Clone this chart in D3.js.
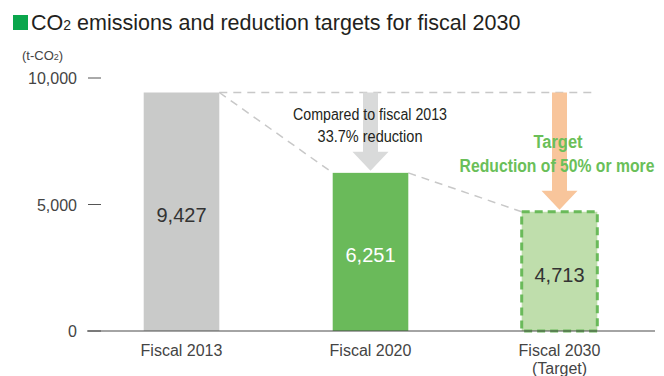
<!DOCTYPE html>
<html>
<head>
<meta charset="utf-8">
<script src="https://cdn.jsdelivr.net/npm/d3@7"></script>
<style>
  body { margin: 0; background: #fff; }
  svg { display: block; font-family: "Liberation Sans", Arial, Helvetica, sans-serif; }
</style>
</head>
<body>
<script>
// CO2 emissions bar chart

var categories = ["Fiscal 2013", "Fiscal 2020", "Fiscal 2030"];
var subLabels = ["", "", "(Target)"];
var values = [9427, 6251, 4713];
var valueLabels = ["9,427", "6,251", "4,713"];
var yTicks = [0, 5000, 10000];
var tickLabels = ["0", "5,000", "10,000"];

var width = 664, height = 376;
var svg = d3.select("body").append("svg").attr("width", width).attr("height", height);

var x = d3.scaleBand().domain(categories).range([87, 654]).paddingInner(0.6).paddingOuter(0.3);
var y = d3.scaleLinear().domain([0, 10000]).range([331, 78]);

// title
svg.append("rect").attr("x", 13).attr("y", 15).attr("width", 15).attr("height", 15).attr("fill", "#0aa64c");
var title = svg.append("text").attr("x", 31).attr("y", 30).attr("font-size", 21.5).attr("fill", "#231f20");
title.append("tspan").text("CO");
title.append("tspan").attr("font-size", 14).text("2");
title.append("tspan").text(" emissions and reduction targets for fiscal 2030");

var unit = svg.append("text").attr("x", 22).attr("y", 60).attr("font-size", 13).attr("fill", "#444");
unit.append("tspan").text("(t-CO");
unit.append("tspan").attr("font-size", 9).text("2");
unit.append("tspan").text(")");

// y ticks
var ticks = svg.append("g");
ticks.selectAll("line").data(yTicks).enter().append("line")
  .attr("x1", 88).attr("x2", 101)
  .attr("y1", function (d) { return y(d); }).attr("y2", function (d) { return y(d); })
  .attr("stroke", "#555").attr("stroke-width", 1);
ticks.selectAll("text").data(yTicks).enter().append("text")
  .attr("x", 77).attr("y", function (d) { return y(d) + 6; })
  .attr("text-anchor", "end").attr("font-size", 16).attr("fill", "#444")
  .text(function (d, i) { return tickLabels[i]; });

// dashed guide lines
var bw = x.bandwidth();
var guide = svg.append("g").attr("stroke", "#c8c8c8").attr("stroke-width", 1.5).attr("stroke-dasharray", "8,6").attr("fill", "none");
guide.append("line")
  .attr("x1", x(categories[0]) + bw).attr("x2", x(categories[2]) + bw)
  .attr("y1", y(values[0])).attr("y2", y(values[0]));
for (var i = 0; i < 2; i++) {
  guide.append("line")
    .attr("x1", x(categories[i]) + bw).attr("y1", y(values[i]))
    .attr("x2", x(categories[i + 1])).attr("y2", y(values[i + 1]));
}

// bars
var fills = ["#c9cac9", "#6aba5a", "#bfdeac"];
svg.selectAll("rect.bar").data(values).enter().append("rect")
  .attr("class", "bar")
  .attr("x", function (d, i) { return x(categories[i]); })
  .attr("y", function (d) { return y(d); })
  .attr("width", bw)
  .attr("height", function (d) { return y(0) - y(d); })
  .attr("fill", function (d, i) { return fills[i]; })
  .attr("stroke", function (d, i) { return i == 2 ? "#6aba5a" : "none"; })
  .attr("stroke-width", 3)
  .attr("stroke-dasharray", function (d, i) { return i == 2 ? "8,5" : null; });

// axis line
svg.append("line").attr("x1", 87).attr("x2", 655).attr("y1", y(0)).attr("y2", y(0))
  .attr("stroke", "#4a4a4a").attr("stroke-width", 1.2);

// value labels
var labelColors = ["#333", "#fff", "#333"];
var labelY = [222, 262, 282];
svg.selectAll("text.val").data(values).enter().append("text")
  .attr("class", "val")
  .attr("x", function (d, i) { return x(categories[i]) + bw / 2; })
  .attr("y", function (d, i) { return labelY[i]; })
  .attr("text-anchor", "middle").attr("font-size", 20)
  .attr("fill", function (d, i) { return labelColors[i]; })
  .text(function (d, i) { return valueLabels[i]; });

// category labels
svg.selectAll("text.cat").data(categories).enter().append("text")
  .attr("class", "cat")
  .attr("x", function (d) { return x(d) + bw / 2; })
  .attr("y", 356)
  .attr("text-anchor", "middle").attr("font-size", 16).attr("fill", "#444")
  .text(function (d) { return d; });
svg.selectAll("text.sub").data(subLabels).enter().append("text")
  .attr("class", "sub")
  .attr("x", function (d, i) { return x(categories[i]) + bw / 2; })
  .attr("y", 374)
  .attr("text-anchor", "middle").attr("font-size", 16).attr("fill", "#444")
  .text(function (d) { return d; });

// arrows
function arrow(cx, yTop, yTip, color) {
  var sh = 7.5, hh = 18, hl = 19;
  var p = d3.path();
  p.moveTo(cx - sh, yTop);
  p.lineTo(cx + sh, yTop);
  p.lineTo(cx + sh, yTip - hl);
  p.lineTo(cx + hh, yTip - hl);
  p.lineTo(cx, yTip);
  p.lineTo(cx - hh, yTip - hl);
  p.lineTo(cx - sh, yTip - hl);
  p.closePath();
  svg.append("path").attr("d", p.toString()).attr("fill", color);
}
arrow(x(categories[1]) + bw / 2, y(values[0]), y(values[1]) - 2, "#d9dada");
arrow(x(categories[2]) + bw / 2, y(values[0]), y(values[2]) - 2, "#f8c59b");

// annotations (condensed type: squeeze horizontally to the measured width)
function note(txt, cx, yy, len, size, color, weight) {
  var t = svg.append("text").attr("x", 0).attr("y", 0)
    .attr("text-anchor", "middle").attr("font-size", size).attr("fill", color)
    .attr("font-weight", weight)
    .text(txt);
  var k = len / t.node().getComputedTextLength();
  t.attr("transform", "translate(" + cx + "," + yy + ") scale(" + k + ",1)");
}
note("Compared to fiscal 2013", 370, 120, 154, 16, "#231f20", "normal");
note("33.7% reduction", 370, 142, 105, 16, "#231f20", "normal");
note("Target", 558, 148, 49, 18, "#6abf59", "bold");
note("Reduction of 50% or more", 557, 172, 195, 18, "#6abf59", "bold");
</script>
</body>
</html>
